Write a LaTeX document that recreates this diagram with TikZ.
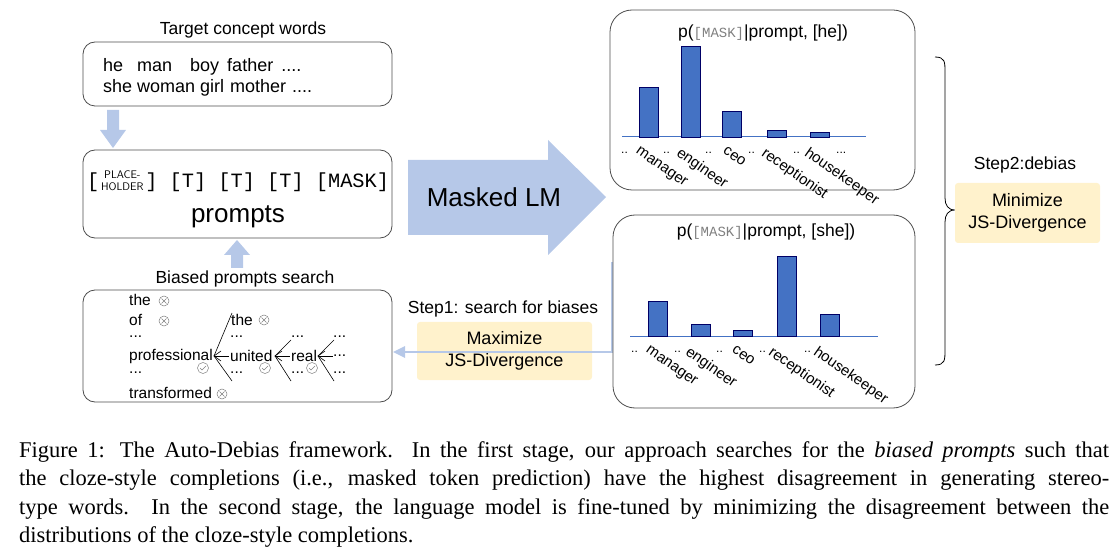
\documentclass[tikz,border=0pt]{standalone}
\usepackage{fontspec}
\setmainfont{Liberation Sans}
\newfontfamily\capfont{Liberation Serif}
\newfontfamily\monofont{Liberation Mono}
\begin{document}
\begin{tikzpicture}[x=1pt,y=-1pt,
  box/.style={draw=black!70,rounded corners=12pt,line width=0.8pt},
  ybox/.style={rounded corners=3pt},
  bar/.style={draw=blue!40!black},
  t/.style={inner sep=0pt,font=\fontsize{17.5}{17.5}\selectfont},
  lab/.style={inner sep=0pt,anchor=north west,rotate=-35,font=\fontsize{15}{15}\selectfont},
  tr/.style={inner sep=0pt,anchor=west,font=\fontsize{15.5}{15.5}\selectfont},
  dd/.style={inner sep=0pt,anchor=west,font=\fontsize{12}{12}\selectfont},
  tl/.style={line width=0.6pt}]
\definecolor{lblue}{RGB}{182,200,232}
\definecolor{lyel}{RGB}{255,242,204}
\definecolor{barc}{RGB}{68,114,196}
\useasboundingbox (0,0) rectangle (1120,556);
% left top
\node[t] (tcw) at (243,30) {Target concept words};
\draw[box] (83,42) rectangle (392,106);
\node[tr,font=\fontsize{18}{18}\selectfont] (w1) at (103,67) {he\hspace{14pt}man\hspace{18pt}boy\hspace{8pt}father\hspace{8pt}....};
\node[tr,font=\fontsize{18}{18}\selectfont] (w2) at (103,88) {she woman girl\hspace{6pt}mother\hspace{6pt}....};
\fill[lblue] (107,110) -- (119,110) -- (119,130) -- (126,130) -- (113,148) -- (100,130) -- (107,130) -- cycle;
\draw[box] (83,150) rectangle (392,238);
\node[inner sep=0pt,anchor=west,font=\monofont\fontsize{20.3}{21}\selectfont] (pr) at (87,181) {[\raisebox{2pt}{\parbox{46pt}{\centering\sffamily\fontsize{11}{12}\selectfont PLACE-\\HOLDER}}] [T] [T] [T] [MASK]};
\node[inner sep=0pt,font=\fontsize{26}{26}\selectfont] (pl) at (238,217) {prompts};
\fill[lblue] (231,268) -- (243,268) -- (243,255) -- (250,255) -- (237,240) -- (224,255) -- (231,255) -- cycle;
\node[t] (bps) at (245,279) {Biased prompts search};
\draw[box] (83,290) rectangle (392,402);
% tree
\node[tr] (a1) at (129,300) {the};
\node[tr] (a2) at (129,320) {of};
\node[tr] (a3) at (129,337) {...};
\node[tr] (a4) at (129,356) {professional};
\node[tr] (a5) at (129,373) {...};
\node[tr] (a6) at (129,393) {transformed};
\node[tr] (b1) at (231,320) {the};
\node[tr] (b3) at (230,337) {...};
\node[tr] (b4) at (230,356) {united};
\node[tr] (b5) at (230,373) {...};
\node[tr] (c3) at (291,337) {...};
\node[tr] (c4) at (291,356) {real};
\node[tr] (c5) at (291,373) {...};
\node[tr] (d3) at (333,337) {...};
\node[tr] (d4) at (333,356) {...};
\node[tr] (d5) at (333,373) {...};
\coordinate (p1) at (214,356);
\coordinate (p2) at (275,356);
\coordinate (p3) at (318,356);
\draw[tl] (p1) -- (232,313); \draw[tl] (p1) -- (229,356); \draw[tl] (p1) -- (232,381);
\draw[tl] (p2) -- (291,340); \draw[tl] (p2) -- (290,356); \draw[tl] (p2) -- (291,381);
\draw[tl] (p3) -- (334,340); \draw[tl] (p3) -- (333,356); \draw[tl] (p3) -- (334,381);
\foreach \p in {p1,p2,p3}{\draw[tl] (\p) ++(7,-5) -- (\p) -- ++(7,5);}
\foreach \x/\y in {164/301,164/321,264/320,222/394}{
  \draw[gray,line width=0.5pt] (\x,\y) circle (5);
  \draw[gray,line width=0.5pt] (\x-2.5,\y-2.5) -- (\x+2.5,\y+2.5) (\x-2.5,\y+2.5) -- (\x+2.5,\y-2.5);}
\foreach \x in {203,265,312}{
  \draw[gray,line width=0.5pt] (\x,368) circle (5.5);
  \draw[gray,line width=0.5pt] (\x-3,368) -- (\x-1,370) -- (\x+3,366);}
% masked LM arrow
\fill[lblue] (408,160) -- (548,160) -- (548,140) -- (606,197) -- (548,255) -- (548,235) -- (408,235) -- cycle;
\node[inner sep=0pt,font=\fontsize{26}{26}\selectfont] (mlm) at (494,197) {Masked LM};
% step1
\node[t] (s1) at (503,309) {Step1: search for biases};
\node[ybox,fill=lyel,minimum width=175pt,minimum height=58pt,align=center,font=\fontsize{18}{22}\selectfont] (max) at (504.5,351) {Maximize\\JS-Divergence};
\draw[lblue,line width=2.5pt] (612,262) -- (612,352) -- (405,352);
\fill[lblue] (393,352) -- (405,346) -- (405,358) -- cycle;
% top chart
\draw[box,rounded corners=22pt] (610,10) rectangle (915,190);
\node[inner sep=0pt,font=\fontsize{17.5}{17.5}\selectfont] (h1) at (763,33) {p(\textcolor{gray}{\monofont\fontsize{14}{14}\selectfont[MASK]}|prompt, [he])};
\draw[barc,line width=1pt] (622,137) -- (866,137);
\foreach \a/\b in {639/87,681/46,722/111,767/130,810/132}{\draw[bar,fill=barc] (\a,137) rectangle (\a+19,\b);}
\foreach \x in {621,663,705,748,793}{\node[dd] at (\x,153) {..};}
\node[dd] at (836,153) {...};
\node[lab] at (640,146) {manager};
\node[lab] at (682,146) {engineer};
\node[lab] at (727,146) {ceo};
\node[lab] at (767,146) {receptionist};
\node[lab] at (810,146) {housekeeper};
% bottom chart
\draw[box,rounded corners=22pt] (613,215) rectangle (915,408);
\node[inner sep=0pt,font=\fontsize{17.5}{17.5}\selectfont] (h2) at (766,232) {p(\textcolor{gray}{\monofont\fontsize{14}{14}\selectfont[MASK]}|prompt, [she])};
\draw[barc,line width=1pt] (630,336) -- (878,336);
\foreach \a/\b in {648/301,691/324,733/330,777/256,820/314}{\draw[bar,fill=barc] (\a,336) rectangle (\a+19,\b);}
\foreach \x in {631,674,716,759,804}{\node[dd] at (\x,352) {..};}
\node[lab] at (650,345) {manager};
\node[lab] at (691,345) {engineer};
\node[lab] at (736,345) {ceo};
\node[lab] at (774,345) {receptionist};
\node[lab] at (819,345) {housekeeper};
% brace
\draw[line width=0.8pt] (935,57) .. controls (945,57) and (945,62) .. (945,72) -- (945,198) .. controls (945,205) and (948,210) .. (955,210) .. controls (948,210) and (945,215) .. (945,222) -- (945,350) .. controls (945,360) and (945,365) .. (935,365);
\node[t] (s2) at (1025,165) {Step2:debias};
\node[ybox,fill=lyel,minimum width=145pt,minimum height=60pt,align=center,font=\fontsize{18}{22}\selectfont] (min) at (1027.5,213) {Minimize\\JS-Divergence};
% caption
\node[anchor=north west,inner sep=0pt,text width=1090pt,align=justify,font=\capfont\fontsize{22.5}{28.5}\selectfont] (cap) at (19,441) {Figure 1: The Auto-Debias framework. In the first stage, our approach searches for the \textit{biased prompts} such that\linebreak the cloze-style completions (i.e., masked token prediction) have the highest disagreement in generating stereo-\linebreak type words. In the second stage, the language model is fine-tuned by minimizing the disagreement between the\linebreak distributions of the cloze-style completions.};
\end{tikzpicture}
\end{document}
